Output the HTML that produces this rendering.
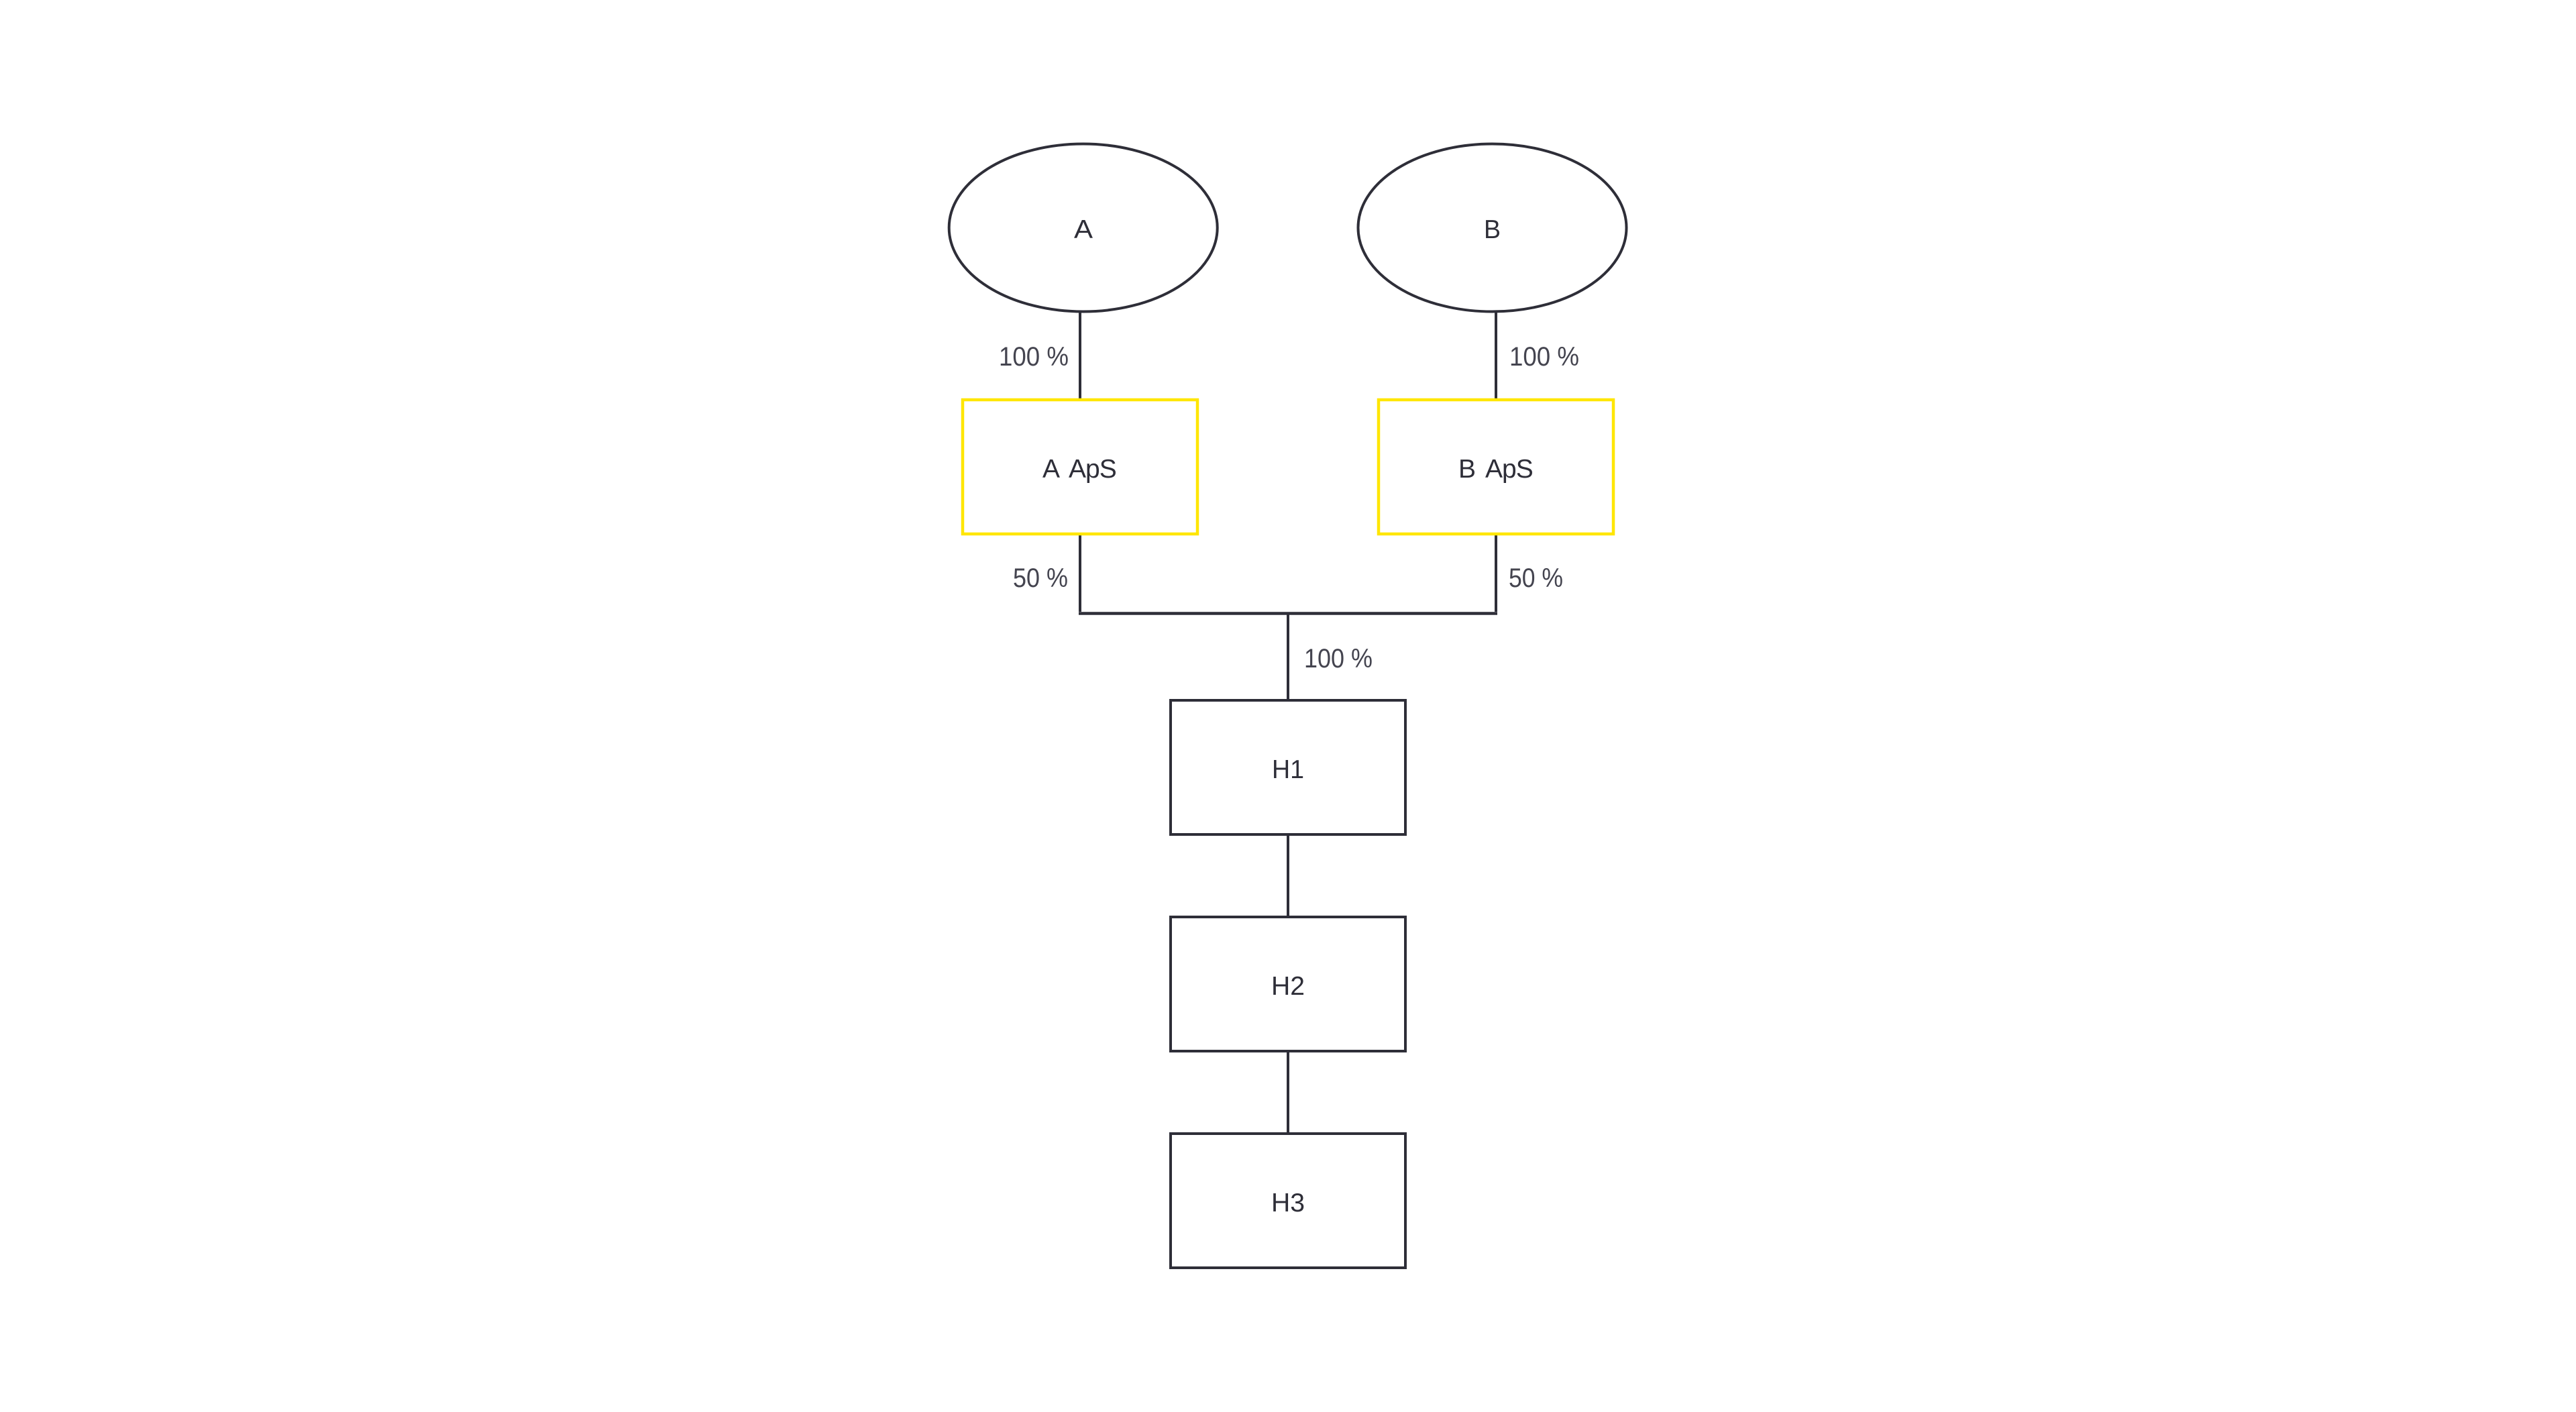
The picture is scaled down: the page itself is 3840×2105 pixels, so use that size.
<!DOCTYPE html>
<html>
<head>
<meta charset="utf-8">
<style>
html,body{margin:0;padding:0;background:#fff;width:3840px;height:2105px;overflow:hidden}
svg{display:block}
text{font-family:"Liberation Sans",sans-serif}
.n{font-size:39px;fill:#2e2e38}
.l{font-size:40px;fill:#44444f}
</style>
</head>
<body>
<svg width="3840" height="2105" viewBox="0 0 3840 2105" xmlns="http://www.w3.org/2000/svg">
<rect width="3840" height="2105" fill="#fff"/>
<g fill="none" stroke="#2e2e38" stroke-width="4">
<ellipse cx="1614.7" cy="339.5" rx="200" ry="125"/>
<ellipse cx="2224.5" cy="339.5" rx="200" ry="125"/>
<path d="M1610 465V594M2230 465V594M1610 798V912M2230 798V912M1920 916V1042M1920 1246V1365M1920 1569V1688"/>
<path d="M1608 914.5H2232" stroke-width="4.5"/>
<rect x="1745" y="1044" width="350" height="200"/>
<rect x="1745" y="1367" width="350" height="200"/>
<rect x="1745" y="1690" width="350" height="200"/>
</g>
<g fill="none" stroke="#ffe600" stroke-width="4.5">
<rect x="1435" y="596" width="350" height="200"/>
<rect x="2055" y="596" width="350" height="200"/>
</g>
<text class="n" x="1601" y="355" textLength="28" lengthAdjust="spacingAndGlyphs">A</text>
<text class="n" x="2212" y="355" textLength="25" lengthAdjust="spacingAndGlyphs">B</text>
<text class="n" y="712" letter-spacing="-1"><tspan x="1554">A</tspan> <tspan x="1593">ApS</tspan></text>
<text class="n" y="712" letter-spacing="-1"><tspan x="2174">B</tspan> <tspan x="2214">ApS</tspan></text>
<text class="n" x="1896" y="1160" textLength="48" lengthAdjust="spacingAndGlyphs">H1</text>
<text class="n" x="1895" y="1483" textLength="50" lengthAdjust="spacingAndGlyphs">H2</text>
<text class="n" x="1895" y="1806" textLength="50" lengthAdjust="spacingAndGlyphs">H3</text>
<text class="l" x="1489" y="545" textLength="104" lengthAdjust="spacingAndGlyphs">100 %</text>
<text class="l" x="2250" y="545" textLength="104" lengthAdjust="spacingAndGlyphs">100 %</text>
<text class="l" x="1944" y="995" textLength="102" lengthAdjust="spacingAndGlyphs">100 %</text>
<text class="l" x="1510" y="875" textLength="82" lengthAdjust="spacingAndGlyphs">50 %</text>
<text class="l" x="2249" y="875" textLength="81" lengthAdjust="spacingAndGlyphs">50 %</text>
</svg>
</body>
</html>
